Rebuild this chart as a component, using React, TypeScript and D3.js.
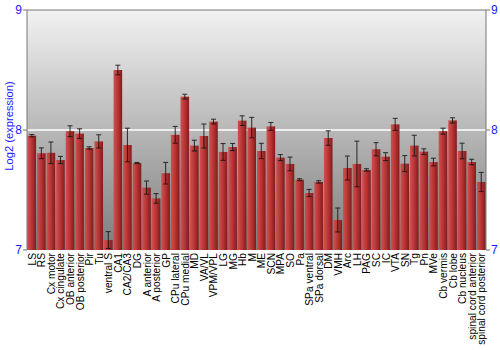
import React from "react";
import * as d3 from "d3";

const categories = ["LS","RS","Cx motor","Cx cingulate","OB anterior","OB posterior","Pir","Tu","ventral S","CA1","CA2/CA3","DG","A anterior","A posterior","GP","CPu lateral","CPu medial","MD","VA/VL","VPM/VPL","LG","MG","Hb","M","ME","SCN","MPA","SO","Pa","SPa ventral","SPa dorsal","DM","VMH","Arc","LH","PAG","SC","IC","VTA","SN","Tg","Pn","MVe","Cb vermis","Cb lobe","Cb nucleus","spinal cord anterior","spinal cord posterior"];
const values = [7.953,7.806,7.81,7.75,7.99,7.97,7.85,7.905,7.083,8.5,7.875,7.725,7.52,7.43,7.64,7.96,8.278,7.87,7.95,8.07,7.817,7.858,8.078,8.02,7.825,8.03,7.77,7.717,7.586,7.475,7.567,7.933,7.25,7.683,7.717,7.667,7.84,7.778,8.047,7.72,7.87,7.82,7.733,7.99,8.08,7.825,7.733,7.567];
const errors = [0.01,0.045,0.09,0.03,0.045,0.04,0.01,0.055,0.07,0.04,0.14,0.005,0.055,0.04,0.09,0.07,0.02,0.045,0.1,0.02,0.07,0.03,0.04,0.085,0.064,0.033,0.025,0.057,0.008,0.03,0.01,0.06,0.1,0.1,0.19,0.01,0.055,0.033,0.05,0.067,0.086,0.023,0.032,0.025,0.022,0.065,0.023,0.08];
const yTicks = [7, 8, 9];

export default function App() {
  const W = 500, H = 350;
  const left = 27, right = 486, top = 10, bottom = 250;
  const x = d3.scaleBand<string>().domain(categories).range([left, right]).paddingInner(0.1).paddingOuter(0.05);
  const y = d3.scaleLinear().domain([7, 9]).range([bottom, top]);
  const blue = "#1a1aff";
  return (
    <svg width={W} height={H} style={{ position: "absolute", left: 0, top: 0, fontFamily: "Liberation Sans, Arial, sans-serif" }}>
      <defs>
        <linearGradient id="bg" x1="0" y1="0" x2="0" y2="1">
          <stop offset="0" stopColor="#f2f2f2" />
          <stop offset="1" stopColor="#7d7d7d" />
        </linearGradient>
        <linearGradient id="bar" x1="0" y1="0" x2="1" y2="0">
          <stop offset="0" stopColor="#d05050" />
          <stop offset="0.5" stopColor="#b83434" />
          <stop offset="1" stopColor="#7f1c1c" />
        </linearGradient>
      </defs>
      <rect x={left} y={top} width={right - left} height={bottom - top} fill="url(#bg)" />
      <line x1={left} x2={right} y1={y(8)} y2={y(8)} stroke="#ffffff" strokeWidth={1.5} />
      {categories.map((c, i) => {
        const bx = x(c)!;
        const bw = x.bandwidth();
        const cx = bx + bw / 2;
        return (
          <g key={c}>
            <rect x={bx} y={y(values[i])} width={bw} height={bottom - y(values[i])} fill="url(#bar)" />
            <g stroke="#111" strokeWidth={1} opacity={0.85}>
              <line x1={cx} x2={cx} y1={y(values[i] + errors[i])} y2={y(values[i] - errors[i])} />
              <line x1={cx - 2.5} x2={cx + 2.5} y1={y(values[i] + errors[i])} y2={y(values[i] + errors[i])} />
              <line x1={cx - 2.5} x2={cx + 2.5} y1={y(values[i] - errors[i])} y2={y(values[i] - errors[i])} />
            </g>
            <text transform={`translate(${cx + 4},${bottom + 3}) rotate(-90)`} textAnchor="end" fontSize={10.2} fill="#000">{c}</text>
          </g>
        );
      })}
      <line x1={left} x2={right} y1={top} y2={top} stroke="#777" strokeWidth={1} />
      <line x1={left} x2={left} y1={top} y2={bottom} stroke="#777" strokeWidth={1} />
      <line x1={right} x2={right} y1={top} y2={bottom} stroke="#777" strokeWidth={1} />
      {yTicks.map((t) => (
        <g key={t}>
          <line x1={left - 4} x2={left} y1={y(t)} y2={y(t)} stroke="#777" />
          <line x1={right} x2={right + 4} y1={y(t)} y2={y(t)} stroke="#777" />
          <text x={left - 5} y={y(t) + 4} textAnchor="end" fontSize={12} fill={blue}>{t}</text>
          <text x={right + 5} y={y(t) + 4} textAnchor="start" fontSize={12} fill={blue}>{t}</text>
        </g>
      ))}
      <text transform={`translate(13,126) rotate(-90)`} textAnchor="middle" fontSize={11.2} fill={blue}>Log2 (expression)</text>
    </svg>
  );
}
